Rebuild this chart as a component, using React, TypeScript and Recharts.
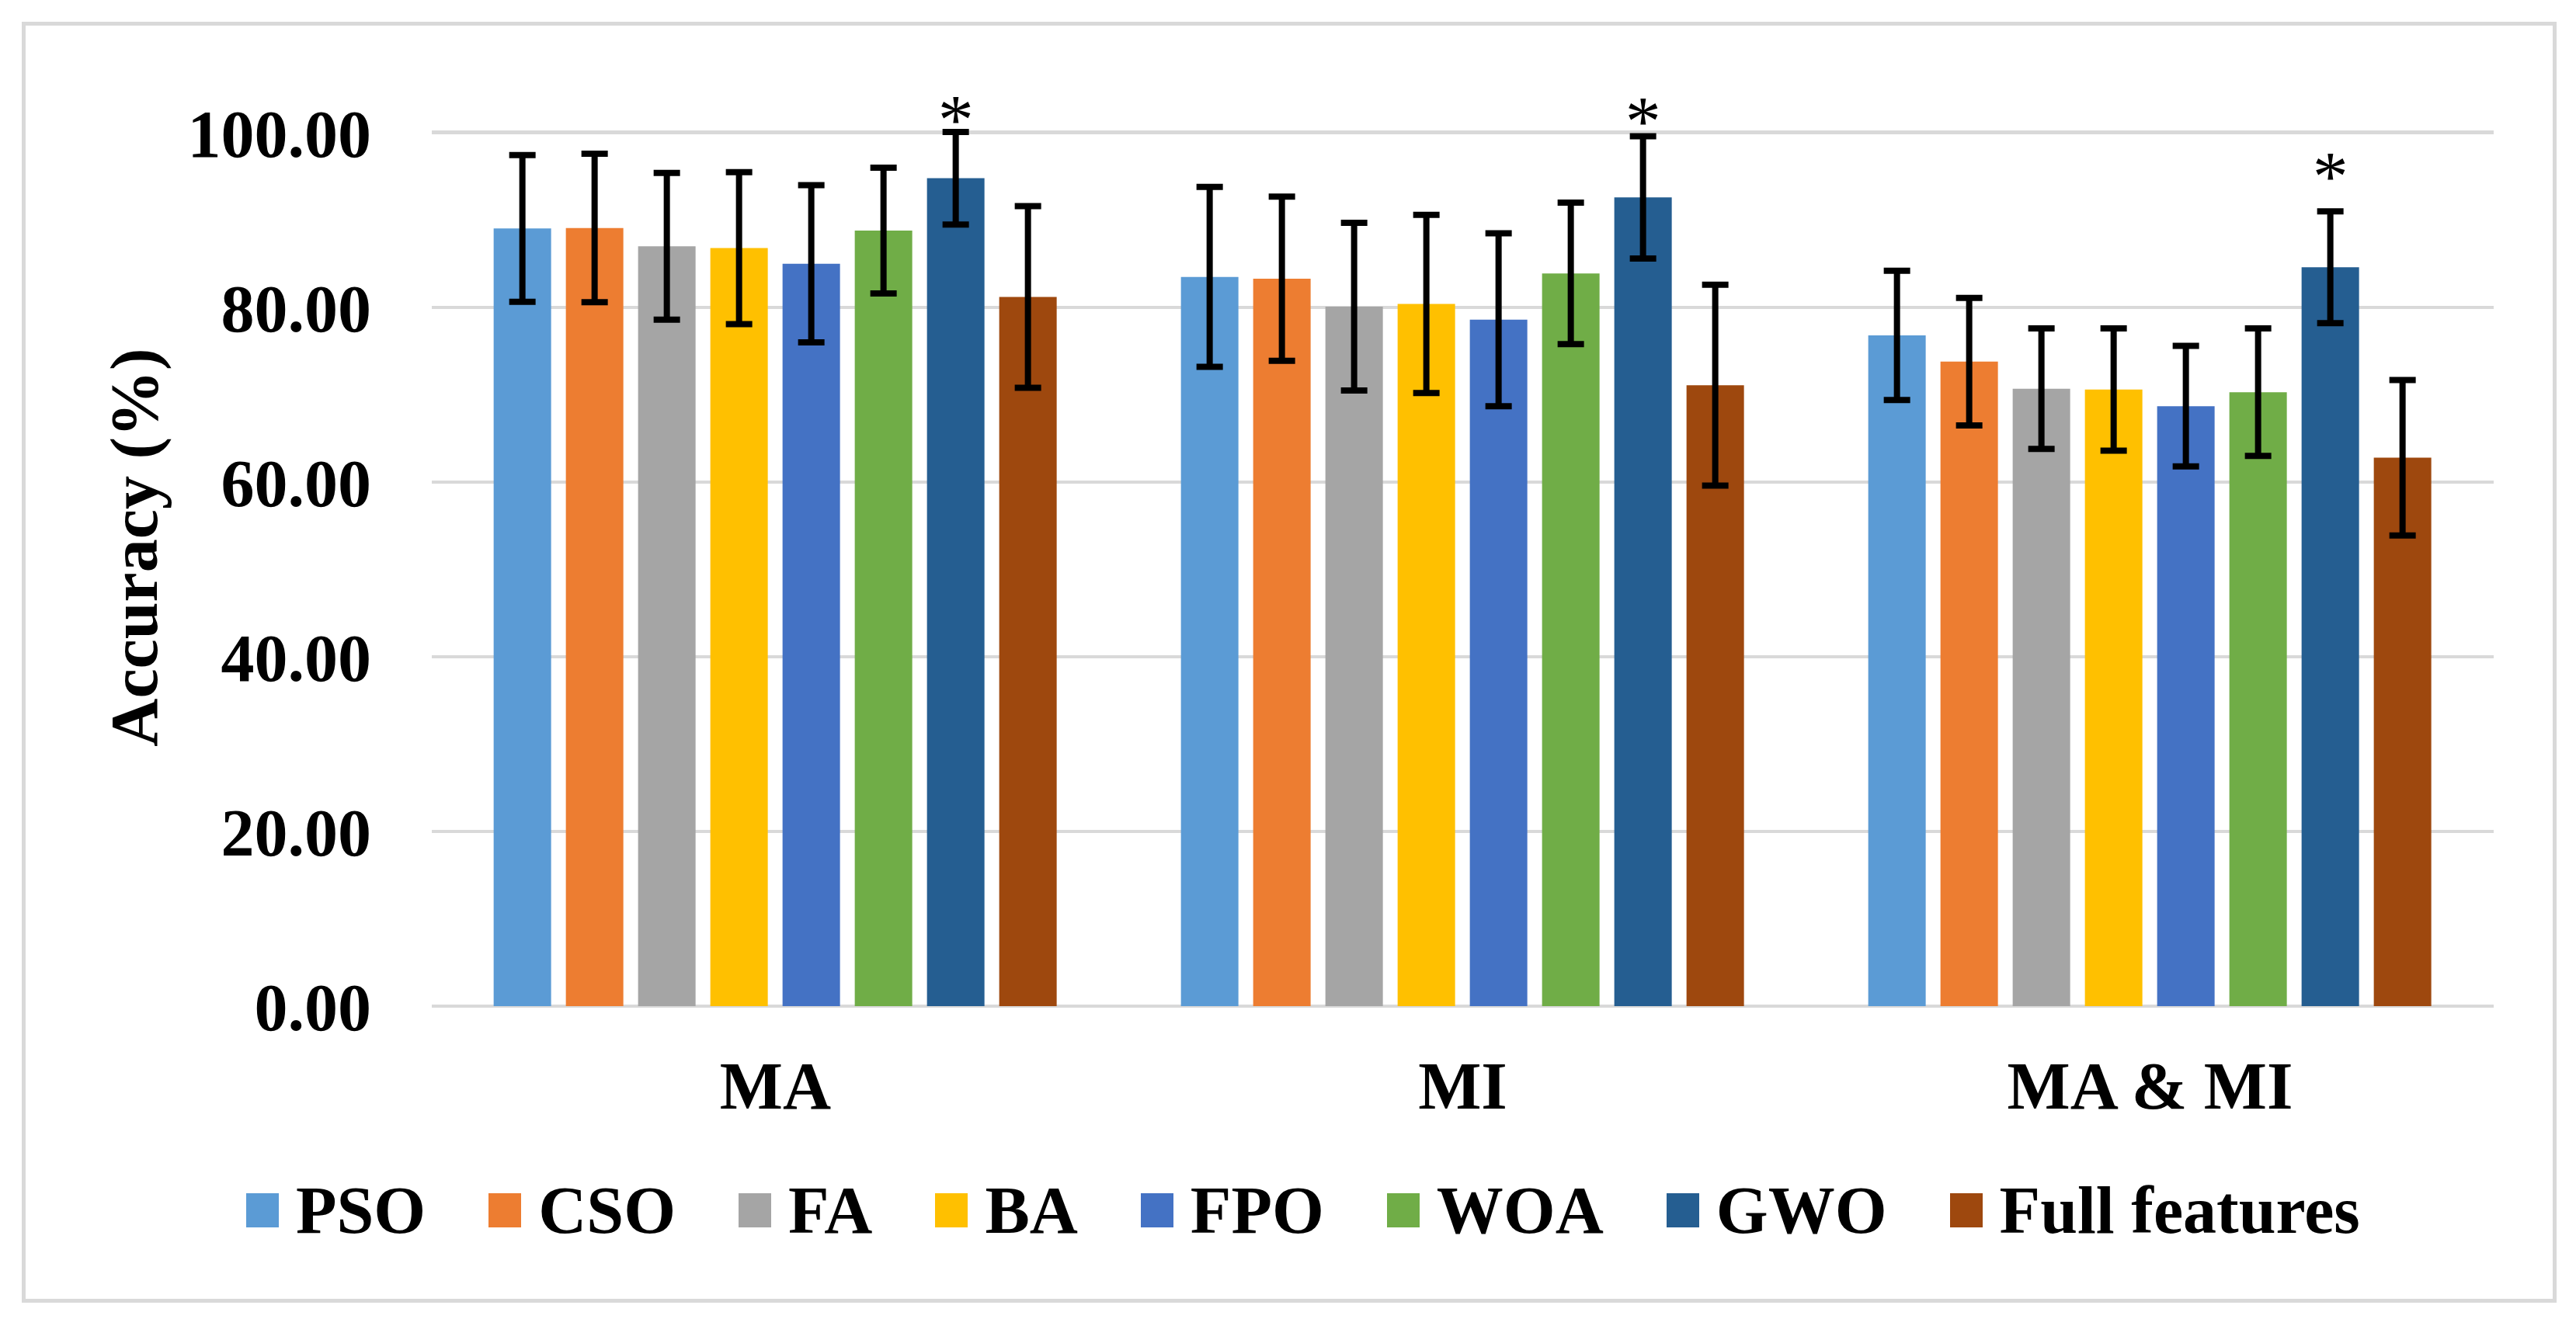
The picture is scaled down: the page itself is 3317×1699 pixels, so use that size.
import React from 'react';
import { BarChart, Bar, XAxis, YAxis, CartesianGrid, ErrorBar, Legend, LabelList } from 'recharts';

const categories = ['MA', 'MI', 'MA & MI'];
const seriesNames = ['PSO', 'CSO', 'FA', 'BA', 'FPO', 'WOA', 'GWO', 'Full features'];
const seriesKeys = ['pso', 'cso', 'fa', 'ba', 'fpo', 'woa', 'gwo', 'full'];
const colors = ['#5B9BD5', '#ED7D31', '#A5A5A5', '#FFC000', '#4472C4', '#70AD47', '#255E91', '#9E480E'];

const pso = [89.05, 83.5, 76.8];
const cso = [89.1, 83.3, 73.8];
const fa = [87.0, 80.1, 70.7];
const ba = [86.8, 80.4, 70.6];
const fpo = [85.0, 78.6, 68.7];
const woa = [88.8, 83.9, 70.3];
const gwo = [94.8, 92.6, 84.6];
const full = [81.2, 71.1, 62.8];

const psoErr = [8.4, 10.3, 7.4];
const csoErr = [8.5, 9.4, 7.3];
const faErr = [8.4, 9.6, 6.9];
const baErr = [8.7, 10.2, 7.0];
const fpoErr = [9.0, 9.9, 6.9];
const woaErr = [7.2, 8.1, 7.3];
const gwoErr = [5.3, 7.0, 6.4];
const fullErr = [10.4, 11.5, 8.9];

// level (in % units) of the bottom of the significance asterisk above GWO
const gwoStarLevel = [100.98, 100.8, 94.5];

const yTicks = [0, 20, 40, 60, 80, 100];

const values = [pso, cso, fa, ba, fpo, woa, gwo, full];
const errors = [psoErr, csoErr, faErr, baErr, fpoErr, woaErr, gwoErr, fullErr];

const data = categories.map((c, i) => {
  const row: any = { category: c, gwoStar: gwoStarLevel[i] };
  seriesKeys.forEach((k, s) => {
    row[k] = values[s][i];
    row[k + 'Err'] = errors[s][i];
  });
  return row;
});

const FONT = '"Liberation Serif", "Times New Roman", Times, serif';
const FS = 86;

const XTick = (props: any) => {
  const { x, y, payload } = props;
  return (
    <text x={x} y={y + 132} textAnchor="middle" fontFamily={FONT} fontSize={FS} fontWeight={700} fill="#000">
      {payload.value}
    </text>
  );
};

const YTitle = (props: any) => {
  const vb = props.viewBox || { x: 0, y: 170, width: 556, height: 1126 };
  const cx = vb.x + 202;
  const cy = vb.y + vb.height / 2 - 28;
  return (
    <text
      transform={`translate(${cx},${cy}) rotate(-90)`}
      textAnchor="middle"
      fontFamily={FONT}
      fontSize={FS}
      fontWeight={700}
      fill="#000"
    >
      Accuracy (%)
    </text>
  );
};

const Star = (props: any) => {
  const { x, y, width, height, value, index } = props;
  const barVal = gwo[index];
  const pxPerUnit = Number(height) / barVal;
  const bottom = Number(y) + Number(height);
  const starBottom = bottom - Number(value) * pxPerUnit;
  return (
    <text
      x={Number(x) + Number(width) / 2}
      y={starBottom + 0.27 * 92}
      textAnchor="middle"
      fontFamily={FONT}
      fontSize={92}
      fontWeight={400}
      fill="#000"
    >
      *
    </text>
  );
};

const LegendContent = () => (
  <div
    style={{
      display: 'flex',
      flexDirection: 'row',
      alignItems: 'center',
      paddingLeft: 317,
      fontFamily: FONT,
      fontSize: FS,
      fontWeight: 700,
      lineHeight: '86px',
      color: '#000',
      whiteSpace: 'nowrap',
    }}
  >
    {seriesNames.map((n, i) => (
      <div key={n} style={{ display: 'flex', alignItems: 'center', marginRight: 81 }}>
        <div style={{ width: 42, height: 44, background: colors[i], marginRight: 22 }} />
        <span>{n}</span>
      </div>
    ))}
  </div>
);

export default function App() {
  return (
    <div style={{ position: 'absolute', left: 0, top: 0, width: 3317, height: 1699, background: '#fff' }}>
      <div
        style={{
          position: 'absolute',
          left: 28,
          top: 28,
          width: 3264,
          height: 1650,
          border: '5px solid #d9d9d9',
          boxSizing: 'border-box',
        }}
      />
      <div style={{ position: 'absolute', left: 0, top: 0 }}>
        <BarChart
          width={3317}
          height={1699}
          data={data}
          margin={{ top: 170, right: 106, bottom: 243, left: 0 }}
          barCategoryGap="9%"
          barGap={19}
        >
          <CartesianGrid horizontal vertical={false} stroke="#d9d9d9" strokeWidth={4} />
          <XAxis
            dataKey="category"
            axisLine={false}
            tickLine={false}
            tickSize={0}
            tickMargin={0}
            height={160}
            tick={<XTick />}
            interval={0}
          />
          <YAxis
            width={556}
            domain={[0, 100]}
            ticks={yTicks}
            axisLine={false}
            tickLine={false}
            tickSize={0}
            tickMargin={78}
            tickFormatter={(v: number) => v.toFixed(2)}
            tick={{ fill: '#000', fontSize: FS, fontWeight: 700, fontFamily: FONT }}
            label={<YTitle />}
          />
          <Legend
            verticalAlign="middle"
            layout="horizontal"
            content={<LegendContent />}
            wrapperStyle={{ position: 'absolute', left: 0, top: 1516, width: 3317, height: 90 }}
          />
          {seriesKeys.map((k, s) => (
            <Bar key={k} dataKey={k} name={seriesNames[s]} fill={colors[s]} isAnimationActive={false}>
              <ErrorBar dataKey={k + 'Err'} width={17} strokeWidth={8} stroke="#000" direction="y" />
              {k === 'gwo' ? <LabelList dataKey="gwoStar" content={<Star />} /> : null}
            </Bar>
          ))}
        </BarChart>
      </div>
    </div>
  );
}
